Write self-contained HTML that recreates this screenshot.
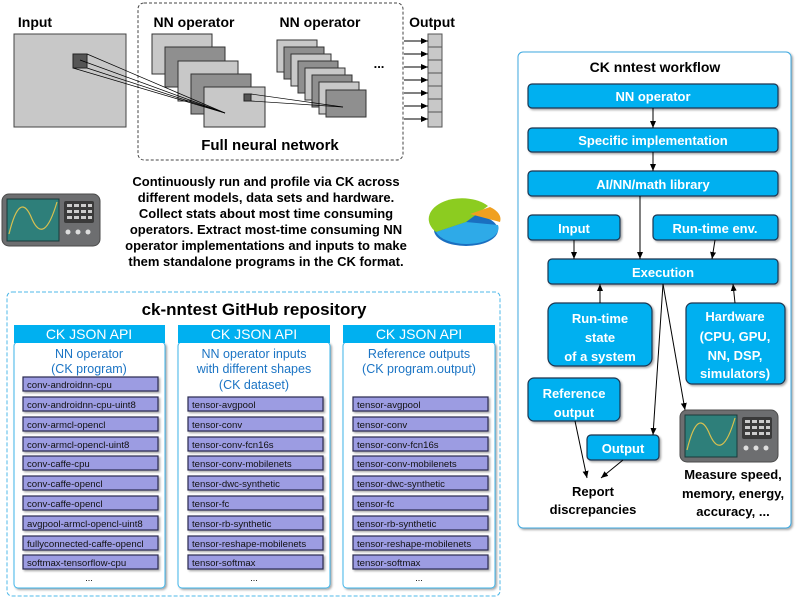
<!DOCTYPE html>
<html><head><meta charset="utf-8"><style>
html,body{margin:0;padding:0;background:#fff;}
svg{display:block;font-family:"Liberation Sans",sans-serif;}
.b{font-weight:bold;}
</style></head><body>
<svg width="800" height="604" viewBox="0 0 800 604" xmlns="http://www.w3.org/2000/svg">
<defs>
<marker id="ar" markerWidth="8" markerHeight="8" refX="7" refY="4" orient="auto" markerUnits="userSpaceOnUse"><path d="M0,1 L7,4 L0,7 Z" fill="#000"/></marker>
<filter id="sh" x="-10%" y="-10%" width="130%" height="140%"><feDropShadow dx="1.5" dy="1.5" stdDeviation="1" flood-color="#000" flood-opacity="0.35"/></filter>
<g id="osc">
<rect x="0" y="0" width="98" height="52" rx="7" fill="#6d6e70" stroke="#4a4a4a"/>
<rect x="5" y="5" width="52" height="42" fill="#2e7f7a" stroke="#1a3a3a"/>
<path d="M7,40 Q18,-5 30,25 Q42,52 55,8" fill="none" stroke="#d8c050" stroke-width="1.2"/>
<rect x="62" y="7" width="30" height="22" rx="2" fill="#3a3a3a"/>
<g fill="#ccc"><rect x="65" y="10" width="5" height="3"/><rect x="72" y="10" width="5" height="3"/><rect x="79" y="10" width="5" height="3"/><rect x="86" y="10" width="4" height="3"/><rect x="65" y="16" width="5" height="3"/><rect x="72" y="16" width="5" height="3"/><rect x="79" y="16" width="5" height="3"/><rect x="86" y="16" width="4" height="3"/><rect x="65" y="22" width="5" height="3"/><rect x="72" y="22" width="5" height="3"/><rect x="79" y="22" width="5" height="3"/><rect x="86" y="22" width="4" height="3"/></g>
<circle cx="66" cy="38" r="2.5" fill="#ddd"/><circle cx="76" cy="38" r="2.5" fill="#ddd"/><circle cx="86" cy="38" r="2.5" fill="#ddd"/>
</g>
</defs>

<!-- Top NN diagram -->
<text x="35" y="27" class="b" font-size="14" text-anchor="middle">Input</text>
<rect x="14" y="34" width="112" height="93" fill="#c8c8c8" stroke="#444"/>
<rect x="73" y="54" width="14" height="14" fill="#555" stroke="#222"/>
<rect x="138" y="3" width="265" height="157" rx="6" fill="none" stroke="#444" stroke-dasharray="3,2"/>
<text x="194" y="27" class="b" font-size="14" text-anchor="middle">NN operator</text>
<text x="320" y="27" class="b" font-size="14" text-anchor="middle">NN operator</text>
<rect x="152" y="34" width="60" height="40" fill="#c8c8c8" stroke="#333"/>
<rect x="165" y="47" width="60" height="40" fill="#8f8f8f" stroke="#333"/>
<rect x="178" y="61" width="60" height="40" fill="#c8c8c8" stroke="#333"/>
<rect x="191" y="74" width="60" height="40" fill="#8f8f8f" stroke="#333"/>
<rect x="204" y="87" width="61" height="40" fill="#c8c8c8" stroke="#333"/>
<rect x="244" y="94" width="7" height="7" fill="#555" stroke="#222"/>
<g fill="#c8c8c8" stroke="#333">
<rect x="277" y="40" width="40" height="32"/>
<rect x="284" y="47" width="40" height="32" fill="#8f8f8f"/>
<rect x="291" y="54" width="40" height="32"/>
<rect x="298" y="61" width="40" height="32" fill="#8f8f8f"/>
<rect x="305" y="68" width="40" height="32"/>
<rect x="312" y="75" width="40" height="32" fill="#8f8f8f"/>
<rect x="319" y="82" width="40" height="32"/>
<rect x="326" y="90" width="40" height="27" fill="#8f8f8f"/>
</g>
<g stroke="#000" stroke-width="0.7">
<line x1="87" y1="54" x2="225" y2="113"/><line x1="87" y1="68" x2="225" y2="113"/><line x1="73" y1="68" x2="225" y2="113"/><line x1="80" y1="60" x2="225" y2="113"/>
<line x1="251" y1="94" x2="343" y2="107"/><line x1="251" y1="101" x2="343" y2="107"/>
</g>
<text x="379" y="68" class="b" font-size="13" text-anchor="middle">...</text>
<text x="432" y="27" class="b" font-size="14" text-anchor="middle">Output</text>
<g fill="#c8c8c8" stroke="#555">
<rect x="428" y="34" width="14" height="13"/><rect x="428" y="47" width="14" height="13"/><rect x="428" y="60" width="14" height="13"/><rect x="428" y="73" width="14" height="13"/><rect x="428" y="86" width="14" height="13"/><rect x="428" y="99" width="14" height="13"/><rect x="428" y="112" width="14" height="15"/>
</g>
<g stroke="#000" stroke-width="1" marker-end="url(#ar)">
<line x1="404" y1="41" x2="428" y2="41"/><line x1="404" y1="54" x2="428" y2="54"/><line x1="404" y1="67" x2="428" y2="67"/><line x1="404" y1="80" x2="428" y2="80"/><line x1="404" y1="93" x2="428" y2="93"/><line x1="404" y1="106" x2="428" y2="106"/><line x1="404" y1="119" x2="428" y2="119"/>
</g>
<text x="270" y="150" class="b" font-size="15" text-anchor="middle">Full neural network</text>

<!-- Middle -->
<use href="#osc" x="2" y="194"/>
<g class="b" font-size="13" text-anchor="middle">
<text x="266" y="186">Continuously run and profile via CK across</text>
<text x="266" y="202">different models, data sets and hardware.</text>
<text x="266" y="218">Collect stats about most time consuming</text>
<text x="266" y="234">operators. Extract most-time consuming NN</text>
<text x="266" y="250">operator implementations and inputs to make</text>
<text x="266" y="266">them standalone programs in the CK format.</text>
</g>
<g>
<ellipse cx="466" cy="230" rx="32" ry="16" fill="#1a6fc0"/>
<path d="M466,222 L498,225 A32,16 0 0 1 466,244 A32,16 0 0 1 436,232 Z" fill="#2eaae8"/>
<path d="M466,222 L436,232 A32,20 0 0 1 488,206 Z" fill="#8ccc20"/>
<path d="M470,214 L490,207 A30,16 0 0 1 500,222 Z" fill="#f0a020"/>
</g>

<!-- Repository -->
<rect x="7" y="292" width="493" height="304" rx="5" fill="none" stroke="#4fb8e8" stroke-dasharray="4,2"/>
<text x="254" y="315" class="b" font-size="17" text-anchor="middle">ck-nntest GitHub repository</text>
<g filter="url(#sh)">
<rect x="14" y="342" width="151" height="246" rx="4" fill="#fff" stroke="#3cb4ea"/>
<rect x="178" y="342" width="152" height="246" rx="4" fill="#fff" stroke="#3cb4ea"/>
<rect x="343" y="342" width="152" height="246" rx="4" fill="#fff" stroke="#3cb4ea"/>
</g>
<rect x="14" y="325" width="151" height="18" fill="#00b0f0"/>
<rect x="178" y="325" width="152" height="18" fill="#00b0f0"/>
<rect x="343" y="325" width="152" height="18" fill="#00b0f0"/>
<g fill="#fff" font-size="14" text-anchor="middle">
<text x="89" y="339">CK JSON API</text><text x="254" y="339">CK JSON API</text><text x="419" y="339">CK JSON API</text>
</g>
<g fill="#1b74c4" font-size="12.5" text-anchor="middle">
<text x="89" y="358">NN operator</text><text x="89" y="373">(CK program)</text>
<text x="254" y="358">NN operator inputs</text><text x="254" y="373">with different shapes</text><text x="254" y="389">(CK dataset)</text>
<text x="419" y="358">Reference outputs</text><text x="419" y="373">(CK program.output)</text>
</g>
<g fill="#9c9ce2" stroke="#2a2a50" stroke-width="1.2" filter="url(#sh)">
<rect x="23" y="377" width="135" height="14"/><rect x="23" y="397" width="135" height="14"/><rect x="23" y="417" width="135" height="14"/><rect x="23" y="437" width="135" height="14"/><rect x="23" y="456" width="135" height="14"/><rect x="23" y="476" width="135" height="14"/><rect x="23" y="496" width="135" height="14"/><rect x="23" y="516" width="135" height="14"/><rect x="23" y="536" width="135" height="14"/><rect x="23" y="555" width="135" height="14"/>
<rect x="188" y="397" width="135" height="14"/><rect x="188" y="417" width="135" height="14"/><rect x="188" y="437" width="135" height="14"/><rect x="188" y="456" width="135" height="14"/><rect x="188" y="476" width="135" height="14"/><rect x="188" y="496" width="135" height="14"/><rect x="188" y="516" width="135" height="14"/><rect x="188" y="536" width="135" height="14"/><rect x="188" y="555" width="135" height="14"/>
<rect x="353" y="397" width="135" height="14"/><rect x="353" y="417" width="135" height="14"/><rect x="353" y="437" width="135" height="14"/><rect x="353" y="456" width="135" height="14"/><rect x="353" y="476" width="135" height="14"/><rect x="353" y="496" width="135" height="14"/><rect x="353" y="516" width="135" height="14"/><rect x="353" y="536" width="135" height="14"/><rect x="353" y="555" width="135" height="14"/>
</g>
<g font-size="9.6" fill="#111">
<text x="27" y="388">conv-androidnn-cpu</text><text x="27" y="408">conv-androidnn-cpu-uint8</text><text x="27" y="428">conv-armcl-opencl</text><text x="27" y="448">conv-armcl-opencl-uint8</text><text x="27" y="467">conv-caffe-cpu</text><text x="27" y="487">conv-caffe-opencl</text><text x="27" y="507">conv-caffe-opencl</text><text x="27" y="527">avgpool-armcl-opencl-uint8</text><text x="27" y="547">fullyconnected-caffe-opencl</text><text x="27" y="566">softmax-tensorflow-cpu</text>
<text x="192" y="408">tensor-avgpool</text><text x="192" y="428">tensor-conv</text><text x="192" y="448">tensor-conv-fcn16s</text><text x="192" y="467">tensor-conv-mobilenets</text><text x="192" y="487">tensor-dwc-synthetic</text><text x="192" y="507">tensor-fc</text><text x="192" y="527">tensor-rb-synthetic</text><text x="192" y="547">tensor-reshape-mobilenets</text><text x="192" y="566">tensor-softmax</text>
<text x="357" y="408">tensor-avgpool</text><text x="357" y="428">tensor-conv</text><text x="357" y="448">tensor-conv-fcn16s</text><text x="357" y="467">tensor-conv-mobilenets</text><text x="357" y="487">tensor-dwc-synthetic</text><text x="357" y="507">tensor-fc</text><text x="357" y="527">tensor-rb-synthetic</text><text x="357" y="547">tensor-reshape-mobilenets</text><text x="357" y="566">tensor-softmax</text>
</g>
<g font-size="9" text-anchor="middle"><text x="89" y="581">...</text><text x="254" y="581">...</text><text x="419" y="581">...</text></g>

<!-- Workflow -->
<rect x="518" y="52" width="273" height="476" rx="5" fill="#fff" stroke="#3ca8e0" filter="url(#sh)"/>
<text x="655" y="72" class="b" font-size="14" text-anchor="middle">CK nntest workflow</text>
<g fill="#00b0f0" stroke="#1e3550" stroke-width="1.2" filter="url(#sh)">
<rect x="528" y="84" width="250" height="24" rx="4"/>
<rect x="528" y="128" width="250" height="24" rx="4"/>
<rect x="528" y="171" width="250" height="25" rx="4"/>
<rect x="528" y="215" width="92" height="25" rx="4"/>
<rect x="653" y="215" width="125" height="25" rx="4"/>
<rect x="548" y="259" width="230" height="25" rx="4"/>
<rect x="548" y="303" width="104" height="63" rx="8"/>
<rect x="686" y="303" width="99" height="81" rx="6"/>
<rect x="528" y="378" width="92" height="43" rx="6"/>
<rect x="587" y="435" width="72" height="25" rx="4"/>
</g>
<g fill="#fff" font-size="13" class="b" text-anchor="middle">
<text x="653" y="101">NN operator</text>
<text x="653" y="145">Specific implementation</text>
<text x="653" y="189">AI/NN/math library</text>
<text x="574" y="233">Input</text>
<text x="715" y="233">Run-time env.</text>
<text x="663" y="277">Execution</text>
<text x="600" y="323">Run-time</text><text x="600" y="342">state</text><text x="600" y="361">of a system</text>
<text x="735" y="321">Hardware</text><text x="735" y="341">(CPU, GPU,</text><text x="735" y="360">NN, DSP,</text><text x="735" y="378">simulators)</text>
<text x="574" y="398">Reference</text><text x="574" y="417">output</text>
<text x="623" y="453">Output</text>
</g>
<g stroke="#000" stroke-width="1" fill="none" marker-end="url(#ar)">
<line x1="653" y1="108" x2="653" y2="128"/>
<line x1="653" y1="152" x2="653" y2="171"/>
<line x1="640" y1="196" x2="640" y2="259"/>
<line x1="574" y1="240" x2="574" y2="259"/>
<line x1="715" y1="240" x2="712" y2="259"/>
<line x1="600" y1="303" x2="600" y2="284"/>
<line x1="735" y1="303" x2="733" y2="284"/>
<line x1="663" y1="284" x2="653" y2="435"/>
<line x1="663" y1="284" x2="685" y2="410"/>
<line x1="575" y1="421" x2="587" y2="478"/>
<line x1="623" y1="460" x2="601" y2="478"/>
</g>
<use href="#osc" x="680" y="410"/>
<g class="b" font-size="13" text-anchor="middle">
<text x="733" y="479">Measure speed,</text><text x="733" y="498">memory, energy,</text><text x="733" y="516">accuracy, ...</text>
<text x="593" y="496">Report</text><text x="593" y="514">discrepancies</text>
</g>
</svg>
</body></html>
